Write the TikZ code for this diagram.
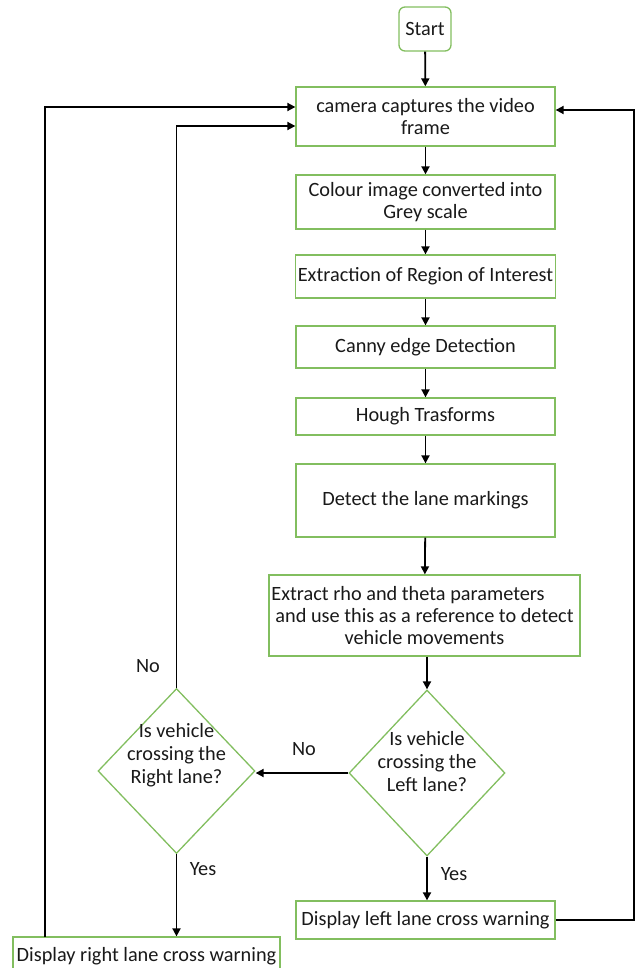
\documentclass[tikz,border=0pt]{standalone}
\usepackage{fontspec}
\setmainfont{Carlito}
\usetikzlibrary{shapes.geometric,arrows.meta}
\definecolor{boxgreen}{RGB}{130,190,95}
\definecolor{txt}{RGB}{25,25,25}
\tikzset{
  base/.style={draw=boxgreen, line width=1.3pt, text=txt, align=center, inner sep=2pt,
     font=\fontsize{20.3}{22}\selectfont},
  procbox/.style={base, rectangle},
  startbox/.style={base, rectangle, rounded corners=6pt},
  dia/.style={draw=boxgreen, line width=1.3pt, diamond, inner sep=0pt},
  diatext/.style={text=txt, align=center, font=\fontsize{20.3}{23}\selectfont},
  lbl/.style={text=txt, font=\fontsize{20.3}{22}\selectfont},
  conn/.style={draw=black, line width=1.8pt, -{Triangle[length=8pt,width=8pt]}},
  plain/.style={draw=black, line width=1.8pt}
}
\begin{document}
\begin{tikzpicture}[x=1pt,y=-1pt]
\useasboundingbox (0,0) rectangle (637,968);
\node[startbox, minimum width=52pt, minimum height=44pt] (start) at (425,29) {Start};
\node[procbox, minimum width=259pt, minimum height=59pt] (cam) at (425.5,116.5) {camera captures the video\\frame};
\node[procbox, minimum width=259pt, minimum height=54pt] (col) at (425.5,202) {Colour image converted into\\Grey scale};
\node[procbox, minimum width=259pt, minimum height=43pt] (roi) at (425.5,276.5) {Extraction of Region of Interest};
\node[procbox, minimum width=259pt, minimum height=42pt] (canny) at (425.5,347) {Canny edge Detection};
\node[procbox, minimum width=259pt, minimum height=37pt] (hough) at (425.5,416.5) {Hough Trasforms};
\node[procbox, minimum width=259pt, minimum height=73pt] (detect) at (425.5,500.5) {Detect the lane markings};
\node[procbox, minimum width=311pt, minimum height=81pt] (extract) at (424.5,615.5) {Extract rho and theta parameters\rule{33pt}{0pt}\\and use this as a reference to detect\\vehicle movements};
\node[dia, minimum width=156pt, minimum height=166pt] (dl) at (427,773) {};
\node[diatext] (dlt) at (427,762) {Is vehicle\\crossing the\\Left lane?};
\node[dia, minimum width=157pt, minimum height=165pt] (dr) at (176.5,771) {};
\node[diatext] (drt) at (176.5,755) {Is vehicle\\crossing the\\Right lane?};
\node[procbox, minimum width=259pt, minimum height=38pt] (dleft) at (425.5,920) {Display left lane cross warning};
\node[procbox, minimum width=267pt, minimum height=38pt] (dright) at (146.5,956) {Display right lane cross warning};

\coordinate (r1) at (634,920);
\coordinate (r2) at (634,110);
\coordinate (o1) at (45,937);
\coordinate (o2) at (45,107);
\coordinate (i2) at (176.5,126);

\draw[conn] (start) -- (cam);
\draw[conn] (cam) -- (col);
\draw[conn] (col) -- (roi);
\draw[conn] (roi) -- (canny);
\draw[conn] (canny) -- (hough);
\draw[conn] (hough) -- (detect);
\draw[conn] (detect) -- (extract);
\draw[conn] (extract.south -| dl.north) -- (dl.north);
\draw[conn] (dl.west) -- (dl.west -| dr.east);
\draw[conn] (dl.south) -- (dleft.north -| dl.south);
\draw[conn] (dr.south) -- (dright.north -| dr.south);
\draw[conn] (dleft.east) -- (r1) -- (r2) -- (r2 -| cam.east);
\draw[conn] (o1) -- (o2) -- (o2 -| cam.west);
\draw[conn] (dr.north) -- (i2) -- (i2 -| cam.west);

\node[lbl] (no1) at (148,666) {No};
\node[lbl] (no2) at (304,749) {No};
\node[lbl] (yes1) at (203,869) {Yes};
\node[lbl] (yes2) at (454,874) {Yes};
\end{tikzpicture}
\end{document}
